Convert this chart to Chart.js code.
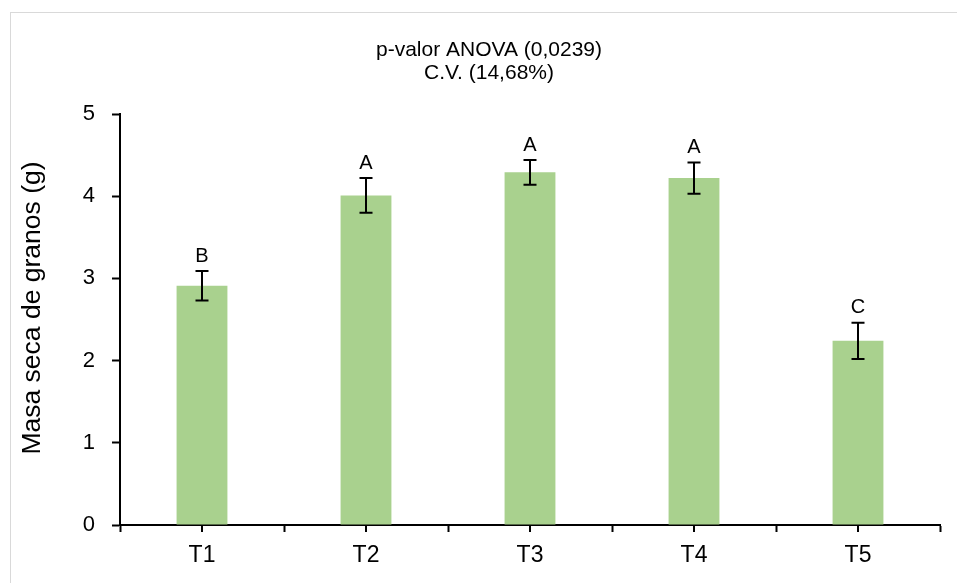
<!DOCTYPE html>
<html>
<head>
    <title>Masa seca de granos</title>
    <style>
        body { margin: 0; background: white; }
        .wrap { position: relative; width: 957px; height: 583px; overflow: hidden; }
        .frame {
            position: absolute; left: 10px; top: 12px;
            width: 960px; height: 600px;
            border: 1px solid #d9d9d9;
        }
        canvas { position: absolute; left: 0; top: 0; }
    </style>
</head>
<body>
<div class="wrap">
    <div class="frame"></div>
    <canvas id="chart" width="957" height="583"></canvas>
</div>
<script src="https://cdn.jsdelivr.net/npm/chart.js"></script>
<script>
// data
const categories = ['T1', 'T2', 'T3', 'T4', 'T5'];
const means = [2.91, 4.01, 4.29, 4.22, 2.24];
const errors = [0.18, 0.21, 0.15, 0.19, 0.22];
const letters = ['B', 'A', 'A', 'A', 'C'];
const yTicks = [0, 1, 2, 3, 4, 5];
const titleLines = ['p-valor ANOVA (0,0239)', 'C.V. (14,68%)'];
const yLabel = 'Masa seca de granos (g)';

const FONT = "'Liberation Sans', Arial, sans-serif";

const extras = {
    id: 'extras',
    afterDatasetsDraw(chart) {
        const ctx = chart.ctx;
        const x = chart.scales.x, y = chart.scales.y;
        ctx.save();
        // error bars + letters
        ctx.strokeStyle = '#000';
        ctx.lineWidth = 2;
        ctx.fillStyle = '#000';
        ctx.font = '20px ' + FONT;
        ctx.textAlign = 'center';
        ctx.textBaseline = 'middle';
        means.forEach((m, i) => {
            const cx = x.getPixelForValue(i);
            const top = y.getPixelForValue(m + errors[i]);
            const bot = y.getPixelForValue(m - errors[i]);
            ctx.beginPath();
            ctx.moveTo(cx, top); ctx.lineTo(cx, bot);
            ctx.moveTo(cx - 6.5, top); ctx.lineTo(cx + 6.5, top);
            ctx.moveTo(cx - 6.5, bot); ctx.lineTo(cx + 6.5, bot);
            ctx.stroke();
            ctx.fillText(letters[i], cx, top - 15);
        });
        // tick marks under each category centre
        const b = x.top;
        ctx.beginPath();
        categories.forEach((c, i) => {
            const cx = x.getPixelForValue(i);
            ctx.moveTo(cx, b); ctx.lineTo(cx, b + 7);
        });
        ctx.stroke();
        // title
        ctx.font = '21px ' + FONT;
        ctx.fillText(titleLines[0], 489, 50);
        ctx.fillText(titleLines[1], 489, 73);
        // y axis title, sits a bit above the axis centre like the original
        ctx.font = '26.5px ' + FONT;
        ctx.translate(33, 308);
        ctx.rotate(-Math.PI / 2);
        ctx.fillText(yLabel, 0, 0);
        ctx.restore();
    }
};

new Chart(document.getElementById('chart'), {
    type: 'bar',
    data: {
        labels: categories,
        datasets: [{
            data: means,
            backgroundColor: '#a9d18e',
            borderWidth: 0,
            barPercentage: 0.31,
            categoryPercentage: 1
        }]
    },
    options: {
        responsive: false,
        animation: false,
        devicePixelRatio: 1,
        layout: { padding: { left: 0, right: 17, top: 114, bottom: 0 } },
        plugins: { legend: { display: false }, tooltip: { enabled: false }, title: { display: false } },
        scales: {
            x: {
                grid: { offset: true, drawOnChartArea: false, drawTicks: true, tickLength: 7, tickColor: '#000', tickWidth: 2 },
                border: { color: '#000', width: 2 },
                ticks: { color: '#000', font: { size: 23, family: FONT }, padding: 10 },
                afterFit(s) { s.height = 58; }
            },
            y: {
                min: 0, max: 5,
                afterBuildTicks(s) { s.ticks = yTicks.map(v => ({ value: v })); },
                grid: { drawOnChartArea: false, drawTicks: true, tickLength: 8, tickColor: '#000', tickWidth: 2 },
                border: { color: '#000', width: 2 },
                ticks: { color: '#000', font: { size: 22, family: FONT }, padding: 17 },
                afterFit(s) { s.width = 120; }
            }
        }
    },
    plugins: [extras]
});
</script>
</body>
</html>
